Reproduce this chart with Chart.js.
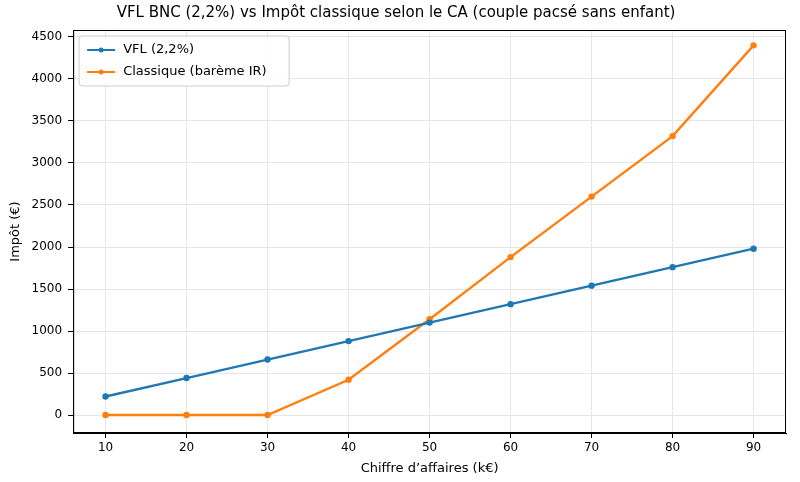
<!DOCTYPE html>
<html><head><meta charset="utf-8">
<script src="https://cdn.jsdelivr.net/npm/chart.js@4/dist/chart.umd.min.js"></script>
<style>body{margin:0;background:#fff}#wrap{width:800px;height:482px}</style>
</head><body><div id="wrap"><canvas id="c"></canvas></div>
<script>
const chiffreAffaires = [10, 20, 30, 40, 50, 60, 70, 80, 90];
const impotVfl = [220, 440, 660, 880, 1100, 1320, 1540, 1760, 1980];
const impotClassique = [0, 0, 0, 420, 1140, 1880, 2600, 3320, 4400];
const xTicks = [10, 20, 30, 40, 50, 60, 70, 80, 90];
const yTicks = [0, 500, 1000, 1500, 2000, 2500, 3000, 3500, 4000, 4500];
const seriesNames = ["VFL (2,2%)", "Classique (barème IR)"];
const colors = ["#1f77b4", "#ff7f0e"];

Chart.defaults.font.family = "DejaVu Sans";
Chart.defaults.color = "#000";

const toPts = (ys) => chiffreAffaires.map((x, i) => ({ x, y: ys[i] }));

const frameLegend = {
    id: "frameLegend",
    afterDraw(chart) {
        const { ctx, chartArea: a } = chart;
        ctx.save();
        ctx.strokeStyle = "#000";
        ctx.lineWidth = 1;
        ctx.strokeRect(a.left + 0.5, a.top + 0.5, a.width - 1, a.height - 1);
        const x0 = a.left + 6, y0 = a.top + 6;
        ctx.fillStyle = "rgba(255,255,255,0.85)";
        ctx.strokeStyle = "#ccc";
        ctx.beginPath();
        ctx.roundRect(x0, y0, 210, 50, 3);
        ctx.fill(); ctx.stroke();
        ctx.font = "13px DejaVu Sans";
        ctx.textBaseline = "middle";
        seriesNames.forEach((n, i) => {
            const y = y0 + 14 + i * 22;
            ctx.strokeStyle = colors[i]; ctx.lineWidth = 2;
            ctx.beginPath(); ctx.moveTo(x0 + 8, y); ctx.lineTo(x0 + 36, y); ctx.stroke();
            ctx.fillStyle = colors[i];
            ctx.beginPath(); ctx.arc(x0 + 22, y, 2.5, 0, Math.PI * 2); ctx.fill();
            ctx.fillStyle = "#000";
            ctx.fillText(n, x0 + 44, y);
        });
        ctx.restore();
    },
};

new Chart(document.getElementById("c"), {
    type: "line",
    data: {
        datasets: [impotVfl, impotClassique].map((d, i) => ({
            label: seriesNames[i],
            data: toPts(d),
            borderColor: colors[i],
            backgroundColor: colors[i],
            borderWidth: 2.4,
            pointRadius: 2,
            pointHoverRadius: 2,
        })),
    },
    options: {
        responsive: true,
        maintainAspectRatio: false,
        animation: false,
        layout: { padding: { left: 6, right: 14, top: 0, bottom: 4 } },
        plugins: {
            legend: { display: false },
            tooltip: { enabled: false },
            title: {
                display: true,
                text: "VFL BNC (2,2%) vs Impôt classique selon le CA (couple pacsé sans enfant)",
                font: { size: 15, weight: "normal" },
                padding: { top: 4, bottom: 8 },
            },
        },
        scales: {
            x: {
                type: "linear", min: 6, max: 94,
                afterBuildTicks: (ax) => { ax.ticks = xTicks.map((v) => ({ value: v })); },
                ticks: { font: { size: 12 }, color: "#000", callback: (v) => String(v) },
                grid: { color: "#e6e6e6", tickColor: "#000", tickLength: 5 },
                border: { color: "#000" },
                title: { display: true, text: "Chiffre d’affaires (k€)", font: { size: 13 }, padding: 2 },
            },
            y: {
                min: -214, max: 4583,
                afterBuildTicks: (ax) => { ax.ticks = yTicks.map((v) => ({ value: v })); },
                ticks: { font: { size: 12 }, color: "#000", callback: (v) => String(v), padding: 6 },
                grid: { color: "#e6e6e6", tickColor: "#000", tickLength: 5 },
                border: { color: "#000" },
                title: { display: true, text: "Impôt (€)", font: { size: 13 }, padding: 2 },
            },
        },
    },
    plugins: [frameLegend],
});
</script></body></html>
